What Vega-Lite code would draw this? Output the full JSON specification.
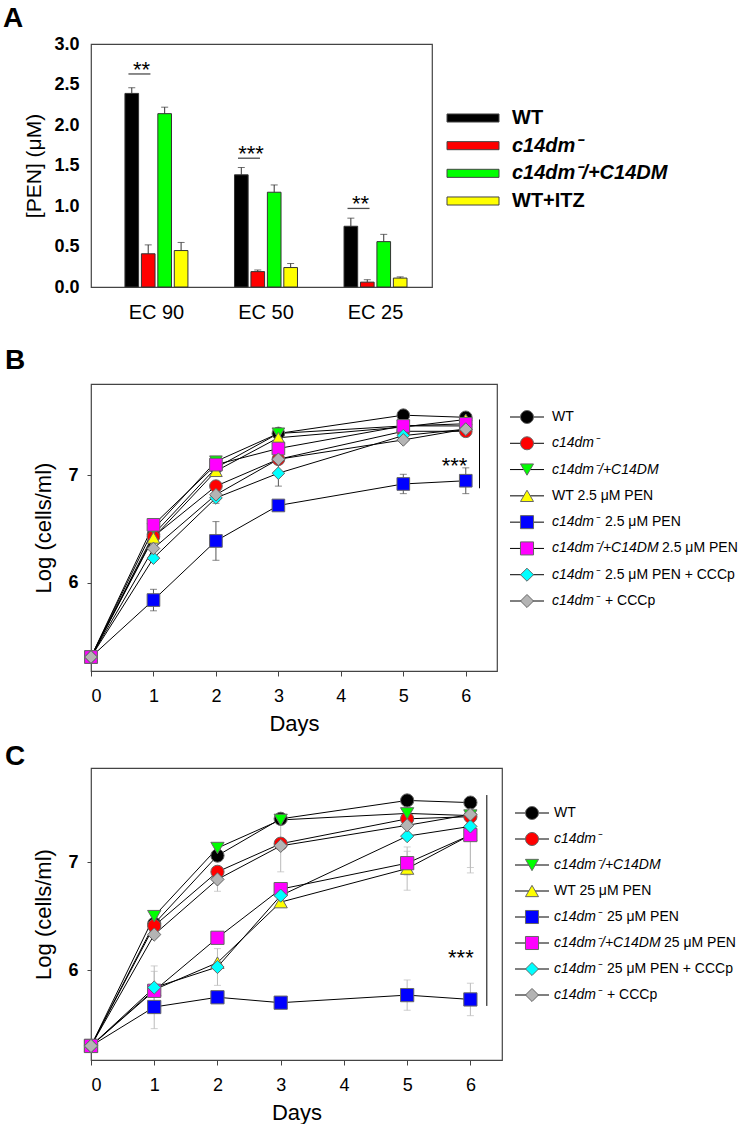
{
  "$schema": "https://vega.github.io/schema/vega-lite/v6.json",
  "padding": {"left": 2, "top": 4, "right": 0, "bottom": 0},
  "background": "white",
  "config": {
    "font": "Liberation Sans",
    "view": {"stroke": "#444", "strokeWidth": 1.2},
    "axis": {"domain": false, "grid": false, "labelColor": "#000", "titleColor": "#000", "tickColor": "#444"},
    "title": {"color": "#000"}
  },
  "datasets": {
    "bars": [
      {"ec": "EC 90", "strain": "WT", "value": 2.39, "upper": 2.46},
      {"ec": "EC 90", "strain": "c14dm⁻", "value": 0.41, "upper": 0.52},
      {"ec": "EC 90", "strain": "c14dm⁻/+C14DM", "value": 2.14, "upper": 2.22},
      {"ec": "EC 90", "strain": "WT+ITZ", "value": 0.45, "upper": 0.55},
      {"ec": "EC 50", "strain": "WT", "value": 1.385, "upper": 1.475},
      {"ec": "EC 50", "strain": "c14dm⁻", "value": 0.19, "upper": 0.21},
      {"ec": "EC 50", "strain": "c14dm⁻/+C14DM", "value": 1.17, "upper": 1.26},
      {"ec": "EC 50", "strain": "WT+ITZ", "value": 0.24, "upper": 0.29},
      {"ec": "EC 25", "strain": "WT", "value": 0.75, "upper": 0.85},
      {"ec": "EC 25", "strain": "c14dm⁻", "value": 0.06, "upper": 0.09},
      {"ec": "EC 25", "strain": "c14dm⁻/+C14DM", "value": 0.56, "upper": 0.65},
      {"ec": "EC 25", "strain": "WT+ITZ", "value": 0.11, "upper": 0.125}
    ],
    "sigA": [
      {"ec": "EC 90", "bracket": 2.63, "stars": "**"},
      {"ec": "EC 50", "bracket": 1.59, "stars": "***"},
      {"ec": "EC 25", "bracket": 0.97, "stars": "**"}
    ],
    "legA": [
      {"strain": "WT"},
      {"strain": "c14dm⁻"},
      {"strain": "c14dm⁻/+C14DM"},
      {"strain": "WT+ITZ"}
    ],
    "growthB": [
      {"g": "WT", "day": 0, "mean": 5.31, "err": 0},
      {"g": "WT", "day": 1, "mean": 6.45, "err": 0},
      {"g": "WT", "day": 2, "mean": 7.07, "err": 0},
      {"g": "WT", "day": 3, "mean": 7.39, "err": 0},
      {"g": "WT", "day": 5, "mean": 7.56, "err": 0},
      {"g": "WT", "day": 6, "mean": 7.54, "err": 0},
      {"g": "c14dm⁻", "day": 0, "mean": 5.31, "err": 0},
      {"g": "c14dm⁻", "day": 1, "mean": 6.43, "err": 0},
      {"g": "c14dm⁻", "day": 2, "mean": 6.9, "err": 0},
      {"g": "c14dm⁻", "day": 3, "mean": 7.15, "err": 0},
      {"g": "c14dm⁻", "day": 5, "mean": 7.41, "err": 0},
      {"g": "c14dm⁻", "day": 6, "mean": 7.41, "err": 0},
      {"g": "c14dm⁻/+C14DM", "day": 0, "mean": 5.31, "err": 0},
      {"g": "c14dm⁻/+C14DM", "day": 1, "mean": 6.5, "err": 0},
      {"g": "c14dm⁻/+C14DM", "day": 2, "mean": 7.13, "err": 0},
      {"g": "c14dm⁻/+C14DM", "day": 3, "mean": 7.39, "err": 0},
      {"g": "c14dm⁻/+C14DM", "day": 5, "mean": 7.46, "err": 0},
      {"g": "c14dm⁻/+C14DM", "day": 6, "mean": 7.46, "err": 0},
      {"g": "WT 2.5 μM PEN", "day": 0, "mean": 5.31, "err": 0},
      {"g": "WT 2.5 μM PEN", "day": 1, "mean": 6.42, "err": 0},
      {"g": "WT 2.5 μM PEN", "day": 2, "mean": 7.04, "err": 0},
      {"g": "WT 2.5 μM PEN", "day": 3, "mean": 7.35, "err": 0},
      {"g": "WT 2.5 μM PEN", "day": 5, "mean": 7.45, "err": 0},
      {"g": "WT 2.5 μM PEN", "day": 6, "mean": 7.52, "err": 0},
      {"g": "c14dm⁻ 2.5 μM PEN", "day": 0, "mean": 5.31, "err": 0},
      {"g": "c14dm⁻ 2.5 μM PEN", "day": 1, "mean": 5.84, "err": 0.1},
      {"g": "c14dm⁻ 2.5 μM PEN", "day": 2, "mean": 6.39, "err": 0.18},
      {"g": "c14dm⁻ 2.5 μM PEN", "day": 3, "mean": 6.72, "err": 0},
      {"g": "c14dm⁻ 2.5 μM PEN", "day": 5, "mean": 6.92, "err": 0.09},
      {"g": "c14dm⁻ 2.5 μM PEN", "day": 6, "mean": 6.95, "err": 0.12},
      {"g": "c14dm⁻/+C14DM 2.5 μM PEN", "day": 0, "mean": 5.31, "err": 0},
      {"g": "c14dm⁻/+C14DM 2.5 μM PEN", "day": 1, "mean": 6.54, "err": 0},
      {"g": "c14dm⁻/+C14DM 2.5 μM PEN", "day": 2, "mean": 7.1, "err": 0},
      {"g": "c14dm⁻/+C14DM 2.5 μM PEN", "day": 3, "mean": 7.25, "err": 0},
      {"g": "c14dm⁻/+C14DM 2.5 μM PEN", "day": 5, "mean": 7.46, "err": 0},
      {"g": "c14dm⁻/+C14DM 2.5 μM PEN", "day": 6, "mean": 7.48, "err": 0},
      {"g": "c14dm⁻ 2.5 μM PEN + CCCp", "day": 0, "mean": 5.31, "err": 0},
      {"g": "c14dm⁻ 2.5 μM PEN + CCCp", "day": 1, "mean": 6.23, "err": 0},
      {"g": "c14dm⁻ 2.5 μM PEN + CCCp", "day": 2, "mean": 6.79, "err": 0.05},
      {"g": "c14dm⁻ 2.5 μM PEN + CCCp", "day": 3, "mean": 7.02, "err": 0.12},
      {"g": "c14dm⁻ 2.5 μM PEN + CCCp", "day": 5, "mean": 7.37, "err": 0},
      {"g": "c14dm⁻ 2.5 μM PEN + CCCp", "day": 6, "mean": 7.43, "err": 0},
      {"g": "c14dm⁻ + CCCp", "day": 0, "mean": 5.31, "err": 0},
      {"g": "c14dm⁻ + CCCp", "day": 1, "mean": 6.32, "err": 0},
      {"g": "c14dm⁻ + CCCp", "day": 2, "mean": 6.82, "err": 0.06},
      {"g": "c14dm⁻ + CCCp", "day": 3, "mean": 7.15, "err": 0},
      {"g": "c14dm⁻ + CCCp", "day": 5, "mean": 7.33, "err": 0},
      {"g": "c14dm⁻ + CCCp", "day": 6, "mean": 7.43, "err": 0}
    ],
    "growthC": [
      {"g": "WT", "day": 0, "mean": 5.3, "err": 0},
      {"g": "WT", "day": 1, "mean": 6.43, "err": 0},
      {"g": "WT", "day": 2, "mean": 7.06, "err": 0},
      {"g": "WT", "day": 3, "mean": 7.4, "err": 0},
      {"g": "WT", "day": 5, "mean": 7.57, "err": 0},
      {"g": "WT", "day": 6, "mean": 7.55, "err": 0},
      {"g": "c14dm⁻", "day": 0, "mean": 5.3, "err": 0},
      {"g": "c14dm⁻", "day": 1, "mean": 6.41, "err": 0},
      {"g": "c14dm⁻", "day": 2, "mean": 6.91, "err": 0},
      {"g": "c14dm⁻", "day": 3, "mean": 7.17, "err": 0},
      {"g": "c14dm⁻", "day": 5, "mean": 7.4, "err": 0},
      {"g": "c14dm⁻", "day": 6, "mean": 7.42, "err": 0},
      {"g": "c14dm⁻/+C14DM", "day": 0, "mean": 5.3, "err": 0},
      {"g": "c14dm⁻/+C14DM", "day": 1, "mean": 6.5, "err": 0},
      {"g": "c14dm⁻/+C14DM", "day": 2, "mean": 7.13, "err": 0},
      {"g": "c14dm⁻/+C14DM", "day": 3, "mean": 7.39, "err": 0},
      {"g": "c14dm⁻/+C14DM", "day": 5, "mean": 7.45, "err": 0},
      {"g": "c14dm⁻/+C14DM", "day": 6, "mean": 7.43, "err": 0},
      {"g": "WT 25 μM PEN", "day": 0, "mean": 5.3, "err": 0},
      {"g": "WT 25 μM PEN", "day": 1, "mean": 5.82, "err": 0},
      {"g": "WT 25 μM PEN", "day": 2, "mean": 6.07, "err": 0},
      {"g": "WT 25 μM PEN", "day": 3, "mean": 6.63, "err": 0},
      {"g": "WT 25 μM PEN", "day": 5, "mean": 6.94, "err": 0.2},
      {"g": "WT 25 μM PEN", "day": 6, "mean": 7.25, "err": 0.3},
      {"g": "c14dm⁻ 25 μM PEN", "day": 0, "mean": 5.3, "err": 0},
      {"g": "c14dm⁻ 25 μM PEN", "day": 1, "mean": 5.66, "err": 0.2},
      {"g": "c14dm⁻ 25 μM PEN", "day": 2, "mean": 5.75, "err": 0.05},
      {"g": "c14dm⁻ 25 μM PEN", "day": 3, "mean": 5.7, "err": 0.05},
      {"g": "c14dm⁻ 25 μM PEN", "day": 5, "mean": 5.77, "err": 0.14},
      {"g": "c14dm⁻ 25 μM PEN", "day": 6, "mean": 5.73, "err": 0.15},
      {"g": "c14dm⁻/+C14DM 25 μM PEN", "day": 0, "mean": 5.3, "err": 0},
      {"g": "c14dm⁻/+C14DM 25 μM PEN", "day": 1, "mean": 5.81, "err": 0.18},
      {"g": "c14dm⁻/+C14DM 25 μM PEN", "day": 2, "mean": 6.3, "err": 0},
      {"g": "c14dm⁻/+C14DM 25 μM PEN", "day": 3, "mean": 6.75, "err": 0},
      {"g": "c14dm⁻/+C14DM 25 μM PEN", "day": 5, "mean": 6.99, "err": 0.11},
      {"g": "c14dm⁻/+C14DM 25 μM PEN", "day": 6, "mean": 7.25, "err": 0.35},
      {"g": "c14dm⁻ 25 μM PEN + CCCp", "day": 0, "mean": 5.3, "err": 0},
      {"g": "c14dm⁻ 25 μM PEN + CCCp", "day": 1, "mean": 5.84, "err": 0.2},
      {"g": "c14dm⁻ 25 μM PEN + CCCp", "day": 2, "mean": 6.03, "err": 0.17},
      {"g": "c14dm⁻ 25 μM PEN + CCCp", "day": 3, "mean": 6.69, "err": 0},
      {"g": "c14dm⁻ 25 μM PEN + CCCp", "day": 5, "mean": 7.24, "err": 0},
      {"g": "c14dm⁻ 25 μM PEN + CCCp", "day": 6, "mean": 7.33, "err": 0},
      {"g": "c14dm⁻ + CCCp", "day": 0, "mean": 5.3, "err": 0},
      {"g": "c14dm⁻ + CCCp", "day": 1, "mean": 6.33, "err": 0},
      {"g": "c14dm⁻ + CCCp", "day": 2, "mean": 6.84, "err": 0.11},
      {"g": "c14dm⁻ + CCCp", "day": 3, "mean": 7.15, "err": 0.24},
      {"g": "c14dm⁻ + CCCp", "day": 5, "mean": 7.34, "err": 0},
      {"g": "c14dm⁻ + CCCp", "day": 6, "mean": 7.44, "err": 0}
    ],
    "legB": [
      {"g": "WT", "it": "", "ro": "WT"},
      {"g": "c14dm⁻", "it": "c14dm⁻", "ro": ""},
      {"g": "c14dm⁻/+C14DM", "it": "c14dm⁻/+C14DM", "ro": ""},
      {"g": "WT 2.5 μM PEN", "it": "", "ro": "WT 2.5 μM PEN"},
      {"g": "c14dm⁻ 2.5 μM PEN", "it": "c14dm⁻", "ro": "2.5 μM PEN"},
      {"g": "c14dm⁻/+C14DM 2.5 μM PEN", "it": "c14dm⁻/+C14DM", "ro": "2.5 μM PEN"},
      {"g": "c14dm⁻ 2.5 μM PEN + CCCp", "it": "c14dm⁻", "ro": "2.5 μM PEN + CCCp"},
      {"g": "c14dm⁻ + CCCp", "it": "c14dm⁻", "ro": "+ CCCp"}
    ],
    "legC": [
      {"g": "WT", "it": "", "ro": "WT"},
      {"g": "c14dm⁻", "it": "c14dm⁻", "ro": ""},
      {"g": "c14dm⁻/+C14DM", "it": "c14dm⁻/+C14DM", "ro": ""},
      {"g": "WT 25 μM PEN", "it": "", "ro": "WT 25 μM PEN"},
      {"g": "c14dm⁻ 25 μM PEN", "it": "c14dm⁻", "ro": "25 μM PEN"},
      {"g": "c14dm⁻/+C14DM 25 μM PEN", "it": "c14dm⁻/+C14DM", "ro": "25 μM PEN"},
      {"g": "c14dm⁻ 25 μM PEN + CCCp", "it": "c14dm⁻", "ro": "25 μM PEN + CCCp"},
      {"g": "c14dm⁻ + CCCp", "it": "c14dm⁻", "ro": "+ CCCp"}
    ]
  },
  "columns": 2,
  "bounds": "flush",
  "align": {"row": "each", "column": "each"},
  "spacing": {"row": 97, "column": 10},
  "resolve": {"scale": {"fill": "independent", "shape": "independent"}},
  "concat": [
    {
      "width": 341,
      "height": 243,
      "title": {"text": "A", "anchor": "start", "frame": "group", "dx": -88, "offset": -20, "fontSize": 28, "fontWeight": "bold", "baseline": "alphabetic"},
      "encoding": {
        "x": {"field": "ec", "type": "nominal", "sort": ["EC 90", "EC 50", "EC 25"], "scale": {"paddingInner": 0.425, "paddingOuter": 0.269, "align": 0.576}, "axis": {"labelAngle": 0, "ticks": false, "labelFontSize": 20, "labelPadding": 15}, "title": null}
      },
      "layer": [
        {
          "data": {"name": "bars"},
          "mark": {"type": "bar", "stroke": "#333", "strokeWidth": 1},
          "encoding": {
            "xOffset": {"field": "strain", "type": "nominal", "scale": {"domain": ["WT", "c14dm⁻", "c14dm⁻/+C14DM", "WT+ITZ"], "paddingInner": 0.17, "paddingOuter": 0}},
            "y": {"field": "value", "type": "quantitative", "scale": {"domain": [0, 3], "nice": false}, "axis": {"values": [0, 0.5, 1, 1.5, 2, 2.5, 3], "format": ".1f", "labelFontSize": 18, "labelFontWeight": "bold", "ticks": false, "labelPadding": 12, "titleFontSize": 21, "titleFontWeight": "normal", "titlePadding": 9}, "title": "[PEN] (μM)"},
            "fill": {"field": "strain", "type": "nominal", "scale": {"domain": ["WT", "c14dm⁻", "c14dm⁻/+C14DM", "WT+ITZ"], "range": ["#000000", "#ff0000", "#00ff00", "#ffff00"]}, "legend": null}
          }
        },
        {
          "data": {"name": "bars"},
          "mark": {"type": "rule", "color": "#333", "strokeWidth": 1},
          "encoding": {
            "xOffset": {"field": "strain", "type": "nominal"},
            "y": {"field": "value", "type": "quantitative", "title": "[PEN] (μM)"},
            "y2": {"field": "upper"}
          }
        },
        {
          "data": {"name": "bars"},
          "mark": {"type": "tick", "color": "#333", "thickness": 1, "size": 7},
          "encoding": {
            "xOffset": {"field": "strain", "type": "nominal"},
            "y": {"field": "upper", "type": "quantitative", "title": "[PEN] (μM)"}
          }
        },
        {
          "data": {"name": "sigA"},
          "mark": {"type": "tick", "color": "#000", "thickness": 1.3, "size": 22, "xOffset": -17},
          "encoding": {"y": {"field": "bracket", "type": "quantitative", "title": "[PEN] (μM)"}}
        },
        {
          "data": {"name": "sigA"},
          "mark": {"type": "text", "fontSize": 22, "baseline": "alphabetic", "dy": 3, "dx": -15, "color": "#000"},
          "encoding": {
            "y": {"field": "bracket", "type": "quantitative", "title": "[PEN] (μM)"},
            "text": {"field": "stars"}
          }
        }
      ]
    },
    {
      "width": 230,
      "height": 231,
      "view": {"stroke": null},
      "data": {"name": "legA"},
      "encoding": {
        "y": {"field": "strain", "type": "nominal", "scale": {"type": "point", "domain": ["WT", "c14dm⁻", "c14dm⁻/+C14DM", "WT+ITZ"], "range": [74, 157], "padding": 0}, "axis": null}
      },
      "layer": [
        {
          "mark": {"type": "point", "shape": "M-1,-0.155L1,-0.155L1,0.155L-1,0.155Z", "size": 2704, "filled": true, "stroke": "#444", "strokeWidth": 1, "opacity": 1},
          "encoding": {
            "x": {"datum": -39, "type": "quantitative", "scale": {"domain": [0, 230], "nice": false, "zero": false}, "axis": null},
            "fill": {"field": "strain", "type": "nominal", "scale": {"domain": ["WT", "c14dm⁻", "c14dm⁻/+C14DM", "WT+ITZ"], "range": ["#000000", "#ff0000", "#00ff00", "#ffff00"]}, "legend": null}
          }
        },
        {
          "transform": [{"filter": "indexof(datum.strain, 'c14dm') < 0"}],
          "mark": {"type": "text", "fontSize": 20, "fontWeight": "bold", "align": "left", "baseline": "middle", "color": "#000"},
          "encoding": {"x": {"datum": 0, "type": "quantitative", "axis": null}, "text": {"field": "strain"}}
        },
        {
          "transform": [{"filter": "indexof(datum.strain, 'c14dm') >= 0"}],
          "mark": {"type": "text", "fontSize": 20, "fontWeight": "bold", "fontStyle": "italic", "align": "left", "baseline": "middle", "color": "#000"},
          "encoding": {"x": {"datum": 0, "type": "quantitative", "axis": null}, "text": {"field": "strain"}}
        }
      ]
    },
    {
      "width": 406,
      "height": 287,
      "title": {"text": "B", "anchor": "start", "frame": "group", "dx": -86, "offset": -13, "fontSize": 28, "fontWeight": "bold", "baseline": "alphabetic"},
      "data": {"name": "growthB"},
      "encoding": {
        "x": {"field": "day", "type": "quantitative", "scale": {"domain": [0, 6.5], "nice": false, "zero": false}, "axis": {"values": [0, 1, 2, 3, 4, 5, 6], "format": "d", "labelFontSize": 18, "tickSize": 5, "labelPadding": 11, "titleFontSize": 22, "titleFontWeight": "normal", "titlePadding": 8}, "title": "Days"},
        "y": {"field": "mean", "type": "quantitative", "scale": {"domain": [5.18, 7.85], "nice": false, "zero": false}, "axis": {"values": [6, 7], "labelFontSize": 18, "labelFontWeight": "bold", "tickSize": 4, "labelPadding": 9, "titleFontSize": 22, "titleFontWeight": "normal", "titlePadding": 12}, "title": "Log (cells/ml)"}
      },
      "layer": [
        {
          "transform": [{"filter": "datum.err > 0"}],
          "mark": {"type": "errorbar", "color": "#555", "thickness": 1, "ticks": {"size": 7}},
          "encoding": {"yError": {"field": "err"}}
        },
        {
          "mark": {"type": "line", "color": "#000", "strokeWidth": 1},
          "encoding": {"detail": {"field": "g", "type": "nominal"}}
        },
        {
          "mark": {"type": "point", "filled": true, "size": 160, "stroke": "#666", "strokeWidth": 1, "opacity": 1},
          "encoding": {
            "shape": {"field": "g", "type": "nominal", "scale": {"domain": ["WT", "c14dm⁻", "c14dm⁻/+C14DM", "WT 2.5 μM PEN", "c14dm⁻ 2.5 μM PEN", "c14dm⁻/+C14DM 2.5 μM PEN", "c14dm⁻ 2.5 μM PEN + CCCp", "c14dm⁻ + CCCp"], "range": ["circle", "circle", "triangle-down", "triangle-up", "square", "square", "diamond", "diamond"]}, "legend": null},
            "fill": {"field": "g", "type": "nominal", "scale": {"domain": ["WT", "c14dm⁻", "c14dm⁻/+C14DM", "WT 2.5 μM PEN", "c14dm⁻ 2.5 μM PEN", "c14dm⁻/+C14DM 2.5 μM PEN", "c14dm⁻ 2.5 μM PEN + CCCp", "c14dm⁻ + CCCp"], "range": ["#000000", "#ff0000", "#00ff00", "#ffff00", "#0000ff", "#ff00ff", "#00ffff", "#b4b4b4"]}, "legend": null}
          }
        },
        {
          "transform": [{"filter": "datum.g == 'WT' && datum.day == 0"}],
          "mark": {"type": "rule", "color": "#000", "strokeWidth": 1},
          "encoding": {"x": {"datum": 6.22, "type": "quantitative", "title": "Days"}, "y": {"datum": 7.52, "type": "quantitative", "title": "Log (cells/ml)"}, "y2": {"datum": 6.88}}
        },
        {
          "transform": [{"filter": "datum.g == 'WT' && datum.day == 0"}],
          "mark": {"type": "text", "fontSize": 22, "baseline": "alphabetic", "align": "center", "color": "#000"},
          "encoding": {"x": {"datum": 5.82, "type": "quantitative", "title": "Days"}, "y": {"datum": 7.02, "type": "quantitative", "title": "Log (cells/ml)"}, "text": {"value": "***"}}
        }
      ]
    },
    {
      "width": 245,
      "height": 250,
      "view": {"stroke": null},
      "data": {"name": "legB"},
      "encoding": {
        "y": {"field": "g", "type": "nominal", "scale": {"type": "point", "domain": ["WT", "c14dm⁻", "c14dm⁻/+C14DM", "WT 2.5 μM PEN", "c14dm⁻ 2.5 μM PEN", "c14dm⁻/+C14DM 2.5 μM PEN", "c14dm⁻ 2.5 μM PEN + CCCp", "c14dm⁻ + CCCp"], "range": [33, 217], "padding": 0}, "axis": null}
      },
      "layer": [
        {
          "mark": {"type": "rule", "color": "#000", "strokeWidth": 1},
          "encoding": {"x": {"datum": -2, "type": "quantitative", "scale": {"domain": [0, 245], "nice": false, "zero": false}, "axis": null}, "x2": {"datum": 32}}
        },
        {
          "mark": {"type": "point", "filled": true, "size": 170, "stroke": "#666", "strokeWidth": 1, "opacity": 1},
          "encoding": {
            "x": {"datum": 15, "type": "quantitative", "axis": null},
            "shape": {"field": "g", "type": "nominal", "scale": {"domain": ["WT", "c14dm⁻", "c14dm⁻/+C14DM", "WT 2.5 μM PEN", "c14dm⁻ 2.5 μM PEN", "c14dm⁻/+C14DM 2.5 μM PEN", "c14dm⁻ 2.5 μM PEN + CCCp", "c14dm⁻ + CCCp"], "range": ["circle", "circle", "triangle-down", "triangle-up", "square", "square", "diamond", "diamond"]}, "legend": null},
            "fill": {"field": "g", "type": "nominal", "scale": {"domain": ["WT", "c14dm⁻", "c14dm⁻/+C14DM", "WT 2.5 μM PEN", "c14dm⁻ 2.5 μM PEN", "c14dm⁻/+C14DM 2.5 μM PEN", "c14dm⁻ 2.5 μM PEN + CCCp", "c14dm⁻ + CCCp"], "range": ["#000000", "#ff0000", "#00ff00", "#ffff00", "#0000ff", "#ff00ff", "#00ffff", "#b4b4b4"]}, "legend": null}
          }
        },
        {
          "mark": {"type": "text", "fontSize": 14, "fontStyle": "italic", "align": "left", "baseline": "middle", "color": "#000"},
          "encoding": {"x": {"datum": 40, "type": "quantitative", "axis": null}, "text": {"field": "it"}}
        },
        {
          "transform": [{"filter": "datum.it == ''"}],
          "mark": {"type": "text", "fontSize": 14, "align": "left", "baseline": "middle", "color": "#000"},
          "encoding": {"x": {"datum": 40, "type": "quantitative", "axis": null}, "text": {"field": "ro"}}
        },
        {
          "transform": [{"filter": "datum.it == 'c14dm⁻'"}],
          "mark": {"type": "text", "fontSize": 14, "align": "left", "baseline": "middle", "color": "#000"},
          "encoding": {"x": {"datum": 93, "type": "quantitative", "axis": null}, "text": {"field": "ro"}}
        },
        {
          "transform": [{"filter": "datum.it == 'c14dm⁻/+C14DM'"}],
          "mark": {"type": "text", "fontSize": 14, "align": "left", "baseline": "middle", "color": "#000"},
          "encoding": {"x": {"datum": 150, "type": "quantitative", "axis": null}, "text": {"field": "ro"}}
        }
      ]
    },
    {
      "width": 411,
      "height": 292,
      "title": {"text": "C", "anchor": "start", "frame": "group", "dx": -86, "offset": -25, "fontSize": 28, "fontWeight": "bold", "baseline": "alphabetic"},
      "data": {"name": "growthC"},
      "encoding": {
        "x": {"field": "day", "type": "quantitative", "scale": {"domain": [0, 6.5], "nice": false, "zero": false}, "axis": {"values": [0, 1, 2, 3, 4, 5, 6], "format": "d", "labelFontSize": 18, "tickSize": 5, "labelPadding": 11, "titleFontSize": 22, "titleFontWeight": "normal", "titlePadding": 8}, "title": "Days"},
        "y": {"field": "mean", "type": "quantitative", "scale": {"domain": [5.17, 7.87], "nice": false, "zero": false}, "axis": {"values": [6, 7], "labelFontSize": 18, "labelFontWeight": "bold", "tickSize": 4, "labelPadding": 9, "titleFontSize": 22, "titleFontWeight": "normal", "titlePadding": 12}, "title": "Log (cells/ml)"}
      },
      "layer": [
        {
          "transform": [{"filter": "datum.err > 0"}],
          "mark": {"type": "errorbar", "color": "#bbbbbb", "thickness": 1, "ticks": {"size": 7}},
          "encoding": {"yError": {"field": "err"}}
        },
        {
          "mark": {"type": "line", "color": "#000", "strokeWidth": 1},
          "encoding": {"detail": {"field": "g", "type": "nominal"}}
        },
        {
          "mark": {"type": "point", "filled": true, "size": 175, "stroke": "#666", "strokeWidth": 1, "opacity": 1},
          "encoding": {
            "shape": {"field": "g", "type": "nominal", "scale": {"domain": ["WT", "c14dm⁻", "c14dm⁻/+C14DM", "WT 25 μM PEN", "c14dm⁻ 25 μM PEN", "c14dm⁻/+C14DM 25 μM PEN", "c14dm⁻ 25 μM PEN + CCCp", "c14dm⁻ + CCCp"], "range": ["circle", "circle", "triangle-down", "triangle-up", "square", "square", "diamond", "diamond"]}, "legend": null},
            "fill": {"field": "g", "type": "nominal", "scale": {"domain": ["WT", "c14dm⁻", "c14dm⁻/+C14DM", "WT 25 μM PEN", "c14dm⁻ 25 μM PEN", "c14dm⁻/+C14DM 25 μM PEN", "c14dm⁻ 25 μM PEN + CCCp", "c14dm⁻ + CCCp"], "range": ["#000000", "#ff0000", "#00ff00", "#ffff00", "#0000ff", "#ff00ff", "#00ffff", "#b4b4b4"]}, "legend": null}
          }
        },
        {
          "transform": [{"filter": "datum.g == 'WT' && datum.day == 0"}],
          "mark": {"type": "rule", "color": "#000", "strokeWidth": 1},
          "encoding": {"x": {"datum": 6.26, "type": "quantitative", "title": "Days"}, "y": {"datum": 7.62, "type": "quantitative", "title": "Log (cells/ml)"}, "y2": {"datum": 5.67}}
        },
        {
          "transform": [{"filter": "datum.g == 'WT' && datum.day == 0"}],
          "mark": {"type": "text", "fontSize": 22, "baseline": "alphabetic", "align": "center", "color": "#000"},
          "encoding": {"x": {"datum": 5.85, "type": "quantitative", "title": "Days"}, "y": {"datum": 6.05, "type": "quantitative", "title": "Log (cells/ml)"}, "text": {"value": "***"}}
        }
      ]
    },
    {
      "width": 238,
      "height": 276,
      "view": {"stroke": null},
      "data": {"name": "legC"},
      "encoding": {
        "y": {"field": "g", "type": "nominal", "scale": {"type": "point", "domain": ["WT", "c14dm⁻", "c14dm⁻/+C14DM", "WT 25 μM PEN", "c14dm⁻ 25 μM PEN", "c14dm⁻/+C14DM 25 μM PEN", "c14dm⁻ 25 μM PEN + CCCp", "c14dm⁻ + CCCp"], "range": [45, 227], "padding": 0}, "axis": null}
      },
      "layer": [
        {
          "mark": {"type": "rule", "color": "#000", "strokeWidth": 1},
          "encoding": {"x": {"datum": 3, "type": "quantitative", "scale": {"domain": [0, 238], "nice": false, "zero": false}, "axis": null}, "x2": {"datum": 37}}
        },
        {
          "mark": {"type": "point", "filled": true, "size": 170, "stroke": "#666", "strokeWidth": 1, "opacity": 1},
          "encoding": {
            "x": {"datum": 20, "type": "quantitative", "axis": null},
            "shape": {"field": "g", "type": "nominal", "scale": {"domain": ["WT", "c14dm⁻", "c14dm⁻/+C14DM", "WT 25 μM PEN", "c14dm⁻ 25 μM PEN", "c14dm⁻/+C14DM 25 μM PEN", "c14dm⁻ 25 μM PEN + CCCp", "c14dm⁻ + CCCp"], "range": ["circle", "circle", "triangle-down", "triangle-up", "square", "square", "diamond", "diamond"]}, "legend": null},
            "fill": {"field": "g", "type": "nominal", "scale": {"domain": ["WT", "c14dm⁻", "c14dm⁻/+C14DM", "WT 25 μM PEN", "c14dm⁻ 25 μM PEN", "c14dm⁻/+C14DM 25 μM PEN", "c14dm⁻ 25 μM PEN + CCCp", "c14dm⁻ + CCCp"], "range": ["#000000", "#ff0000", "#00ff00", "#ffff00", "#0000ff", "#ff00ff", "#00ffff", "#b4b4b4"]}, "legend": null}
          }
        },
        {
          "mark": {"type": "text", "fontSize": 14, "fontStyle": "italic", "align": "left", "baseline": "middle", "color": "#000"},
          "encoding": {"x": {"datum": 42, "type": "quantitative", "axis": null}, "text": {"field": "it"}}
        },
        {
          "transform": [{"filter": "datum.it == ''"}],
          "mark": {"type": "text", "fontSize": 14, "align": "left", "baseline": "middle", "color": "#000"},
          "encoding": {"x": {"datum": 42, "type": "quantitative", "axis": null}, "text": {"field": "ro"}}
        },
        {
          "transform": [{"filter": "datum.it == 'c14dm⁻'"}],
          "mark": {"type": "text", "fontSize": 14, "align": "left", "baseline": "middle", "color": "#000"},
          "encoding": {"x": {"datum": 95, "type": "quantitative", "axis": null}, "text": {"field": "ro"}}
        },
        {
          "transform": [{"filter": "datum.it == 'c14dm⁻/+C14DM'"}],
          "mark": {"type": "text", "fontSize": 14, "align": "left", "baseline": "middle", "color": "#000"},
          "encoding": {"x": {"datum": 152, "type": "quantitative", "axis": null}, "text": {"field": "ro"}}
        }
      ]
    }
  ]
}
